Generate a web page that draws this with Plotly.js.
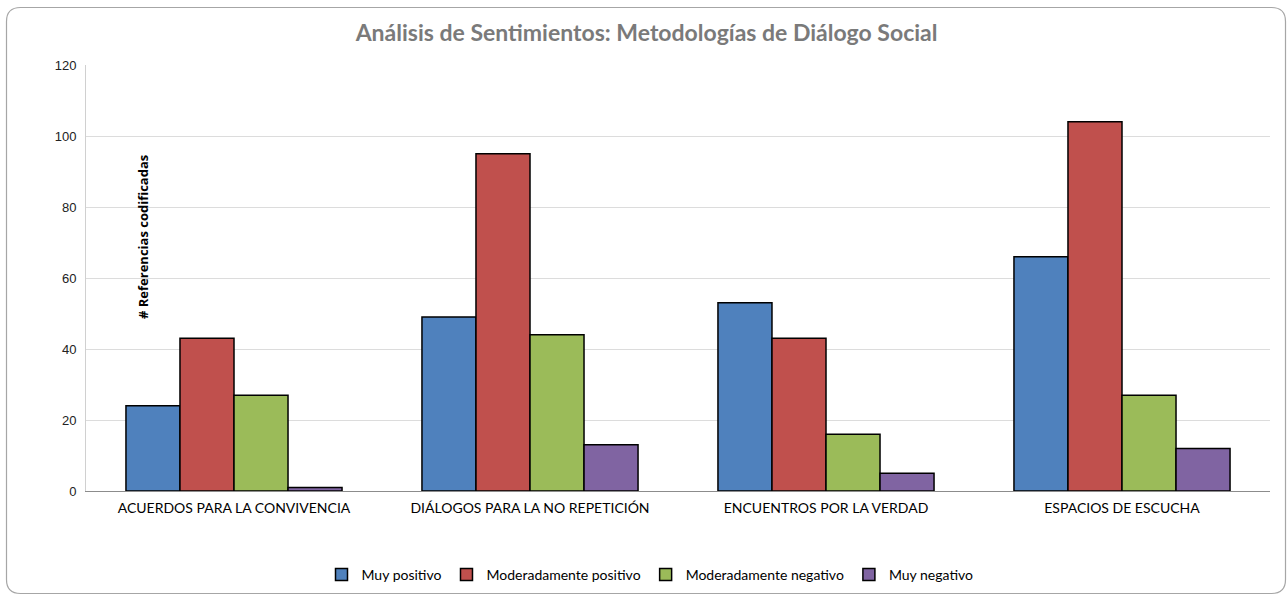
<!DOCTYPE html>
<html>
<head>
<meta charset="utf-8">
<script src="https://cdn.plot.ly/plotly-3.0.1.min.js"></script>
<style>html,body{margin:0;padding:0;background:#fff;}#chart{width:1288px;height:595px;}</style>
</head>
<body>
<div id="chart"></div>
<script>
const categories = ["ACUERDOS PARA LA CONVIVENCIA", "DIÁLOGOS PARA LA NO REPETICIÓN", "ENCUENTROS POR LA VERDAD", "ESPACIOS DE ESCUCHA"];
const seriesNames = ["Muy positivo", "Moderadamente positivo", "Moderadamente negativo", "Muy negativo"];
const muyPositivo = [24, 49, 53, 66];
const moderadamentePositivo = [43, 95, 43, 104];
const moderadamenteNegativo = [27, 44, 16, 27];
const muyNegativo = [1, 13, 5, 12];
const yTicks = [0, 20, 40, 60, 80, 100, 120];
const colors = ["#4f81bd", "#c0504d", "#9bbb59", "#8064a2"];

const values = [muyPositivo, moderadamentePositivo, moderadamenteNegativo, muyNegativo];
const traces = values.map((v, i) => ({
  type: "bar",
  name: seriesNames[i],
  x: categories,
  y: v,
  marker: {color: colors[i], line: {color: "#000", width: 1.5}},
  hoverinfo: "x+y+name"
}));

// plot area geometry (px) for the frame shape
const W = 1288, H = 595, L = 86, R = 18, T = 65, B = 104;
const pw = W - L - R, ph = H - T - B;
const px = x => (x - L) / pw;
const py = y => (H - B - y) / ph;
const fx0 = 6.5, fy0 = 7.5, fx1 = 1285.5, fy1 = 593.5, rad = 14;
const path = [
  `M ${px(fx0 + rad)},${py(fy0)}`,
  `L ${px(fx1 - rad)},${py(fy0)}`,
  `Q ${px(fx1)},${py(fy0)} ${px(fx1)},${py(fy0 + rad)}`,
  `L ${px(fx1)},${py(fy1 - rad)}`,
  `Q ${px(fx1)},${py(fy1)} ${px(fx1 - rad)},${py(fy1)}`,
  `L ${px(fx0 + rad)},${py(fy1)}`,
  `Q ${px(fx0)},${py(fy1)} ${px(fx0)},${py(fy1 - rad)}`,
  `L ${px(fx0)},${py(fy0 + rad)}`,
  `Q ${px(fx0)},${py(fy0)} ${px(fx0 + rad)},${py(fy0)} Z`
].join(" ");

const layout = {
  width: W, height: H,
  margin: {l: L, r: R, t: T, b: B, autoexpand: false},
  paper_bgcolor: "#fff", plot_bgcolor: "#fff",
  title: {
    text: "<b>Análisis de Sentimientos: Metodologías de Diálogo Social</b>",
    font: {family: "Lato, 'Open Sans', sans-serif", size: 23, color: "#7a7a7a"},
    x: 0.502, xanchor: "center", y: 1 - 33 / H, yanchor: "middle"
  },
  barmode: "group",
  bargap: 0.27,
  bargroupgap: 0,
  xaxis: {
    showgrid: false,
    showline: true, linecolor: "#8c8c8c", linewidth: 1,
    ticks: "", tickfont: {family: "Lato, 'Open Sans', sans-serif", size: 14, color: "#000"},
    ticklabelstandoff: 4,
    automargin: false,
    fixedrange: true
  },
  yaxis: {
    range: [0, 120], tickvals: yTicks, ticktext: yTicks.map(String),
    showgrid: true, gridcolor: "#dcdcdc", gridwidth: 1,
    showline: true, linecolor: "#d0d0d0", linewidth: 1,
    zeroline: false, ticks: "",
    tickfont: {family: "'Liberation Sans', Arial, sans-serif", size: 13, color: "#222"},
    ticklabelstandoff: 6,
    automargin: false,
    fixedrange: true
  },
  legend: {
    orientation: "h", x: px(650), xanchor: "center", y: py(575), yanchor: "middle",
    font: {family: "Lato, 'Open Sans', sans-serif", size: 14, color: "#000"},
    itemwidth: 30, traceorder: "normal"
  },
  annotations: [{
    text: "<b># Referencias codificadas</b>",
    xref: "paper", yref: "paper", x: px(143), y: py(237),
    xanchor: "center", yanchor: "middle", textangle: -90, showarrow: false,
    font: {family: "'Open Sans', sans-serif", size: 13, color: "#000"}
  }],
  shapes: [{
    type: "path", xref: "paper", yref: "paper", path: path,
    line: {color: "#a6a6a6", width: 1.2}, layer: "below"
  }],
  showlegend: true
};

Plotly.newPlot("chart", traces, layout, {displayModeBar: false, staticPlot: false});
</script>
</body>
</html>
